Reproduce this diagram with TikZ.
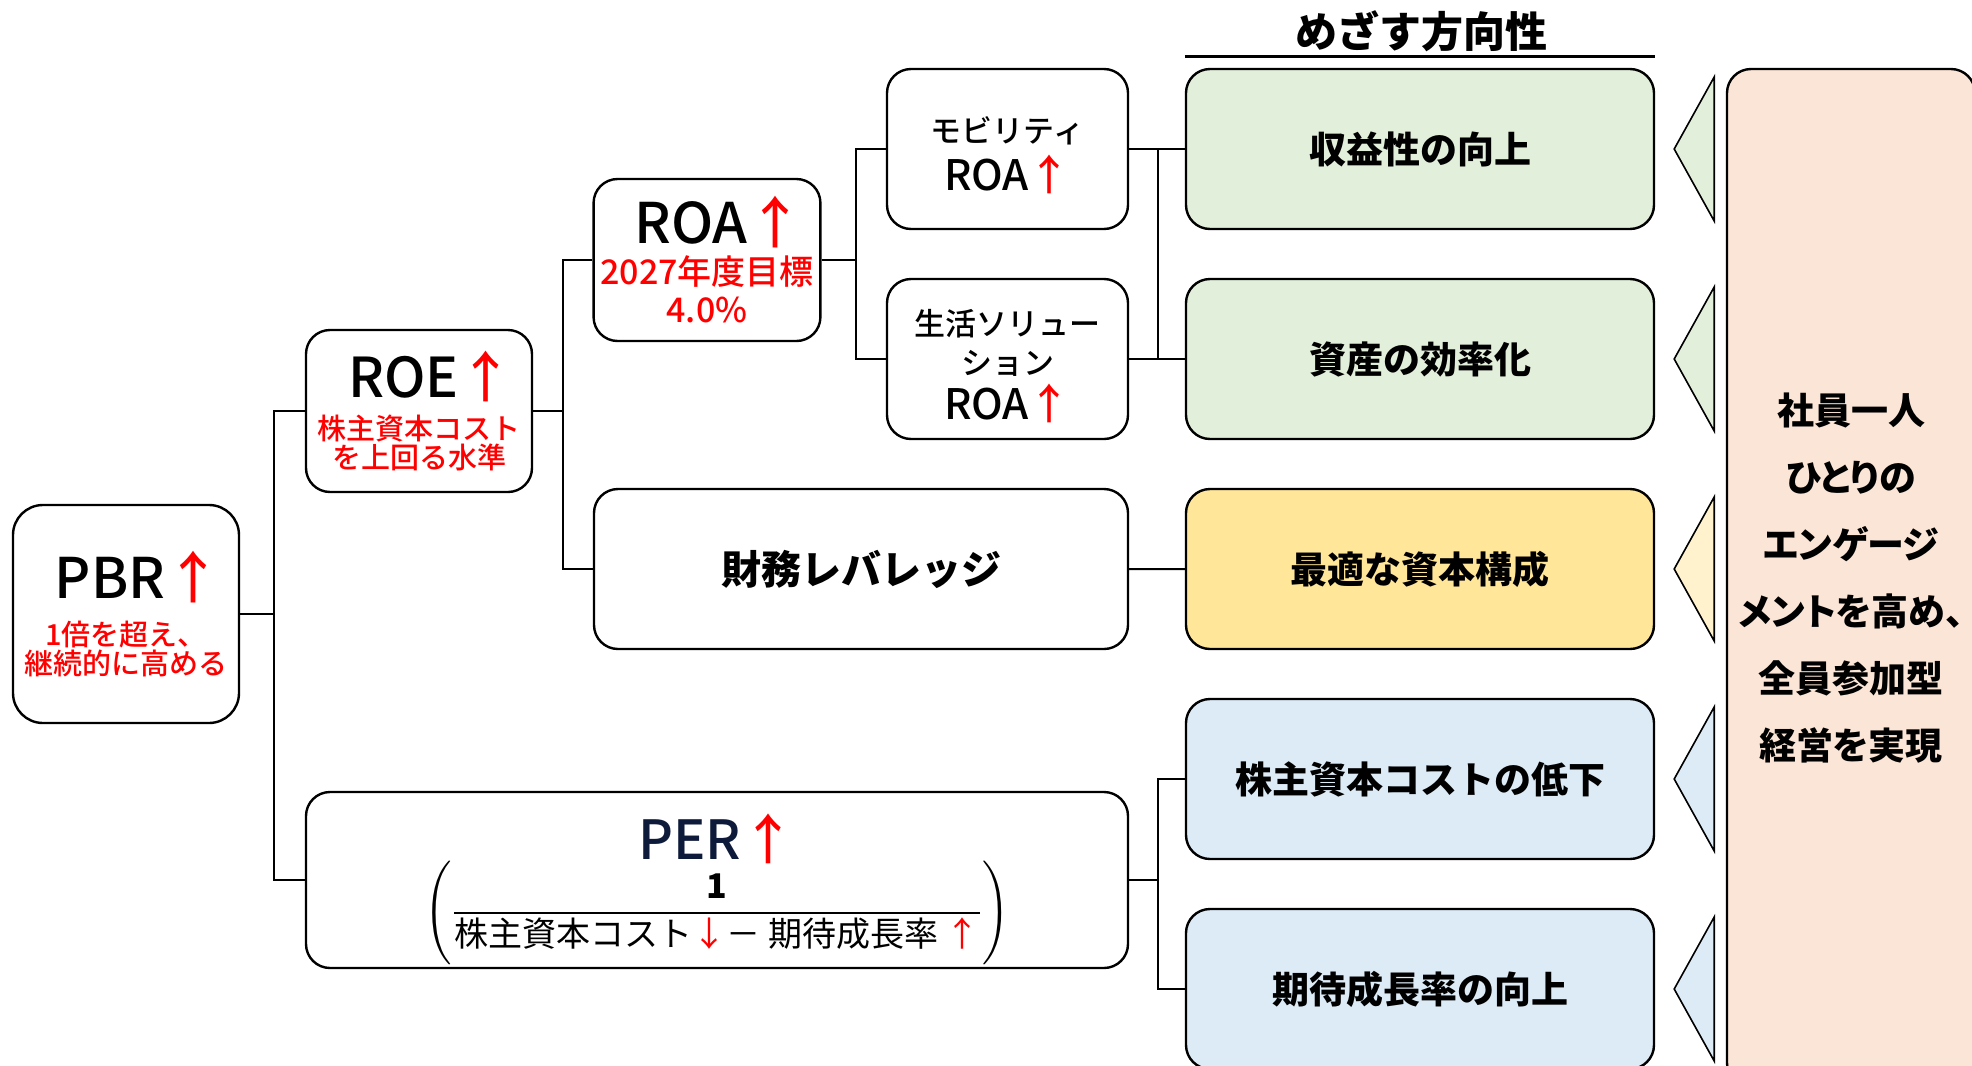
\documentclass[tikz,border=0pt]{standalone}
\usepackage{fontspec}
\setmainfont{Noto Sans CJK JP}
\newfontfamily\medfont{Noto Sans CJK JP Medium}
\usepackage{xcolor}
\usepackage{amsmath}
\usetikzlibrary{positioning}
\definecolor{grnfill}{RGB}{226,239,218}
\definecolor{ylwfill}{RGB}{255,230,153}
\definecolor{ylwtri}{RGB}{255,242,204}
\definecolor{blufill}{RGB}{221,235,247}
\definecolor{peach}{RGB}{251,229,214}
\definecolor{pernavy}{RGB}{14,26,58}

\begin{document}
\begin{tikzpicture}[x=0.5pt,y=-0.5pt,
  box/.style={rectangle,rounded corners=12pt,draw,line width=1.2pt,align=center,fill=white},
  sub/.style={font=\fontsize{14.5}{14.5}\selectfont\medfont,text=red},
  goal/.style={box,minimum width=234pt,minimum height=80pt,font=\fontsize{18.5}{22}\selectfont\bfseries},
  conn/.style={line width=1pt},
  tri/.style={draw,line width=0.8pt},
  node distance=23.8pt]
  \useasboundingbox (0,0) rectangle (1972,1066);
  % left tree
  \node[box,sub,minimum width=113pt,minimum height=109pt,rounded corners=15pt](pbr) at (126,614)
    {\hspace*{12pt}{\fontsize{28}{32}\selectfont\color{black}PBR\textcolor{red}{↑}}\\[9pt]1倍を超え、\\継続的に高める};
  \node[box,sub,minimum width=113pt,minimum height=81pt](roe) at (419,411)
    {\hspace*{12pt}{\fontsize{27.5}{32}\selectfont\color{black}ROE\textcolor{red}{↑}}\\[6.5pt]株主資本コスト\\を上回る水準};
  \node[box,sub,font=\fontsize{17}{19}\selectfont\medfont,minimum width=113pt,minimum height=81pt](roa) at (707,260)
    {\hspace*{12pt}{\fontsize{28}{32}\selectfont\color{black}ROA\textcolor{red}{↑}}\\[1.5pt]2027年度目標\\4.0\%};
  \node[box,font=\fontsize{15.5}{20}\selectfont\medfont,minimum width=120.5pt,minimum height=80pt](mob) at (1007.5,149)
    {\rule{0pt}{19pt}モビリティ\\[4pt]{\fontsize{21}{22}\selectfont ROA\textcolor{red}{↑}}};
  \node[box,font=\fontsize{15.5}{19.5}\selectfont\medfont,minimum width=120.5pt,minimum height=80pt,below=of mob](sol)
    {\rule{0pt}{20pt}生活ソリュー\\ション\\[3pt]{\fontsize{21}{22}\selectfont ROA\textcolor{red}{↑}}};
  \node[box,font=\fontsize{20}{24}\selectfont\bfseries,minimum width=267pt,minimum height=80pt](lev) at (861,569)
    {財務レバレッジ};
  \node[box,font=\fontsize{17}{20}\selectfont,inner ysep=0.5pt,minimum width=411pt,minimum height=88pt](per) at (717,880)
    {\rule{0pt}{32pt}{\fontsize{27}{30}\selectfont\medfont\color{pernavy}PER\textcolor{red}{↑}}\\[-2pt]
     $\displaystyle\Biggl(\frac{\mathbf{1}}{\text{株主資本コスト\textcolor{red}{↓}－ 期待成長率 \textcolor{red}{↑}}}\Biggr)$};
  % goals
  \node[font=\fontsize{21}{24}\selectfont\bfseries](hdr) at (1421,31){めざす方向性};
  \node[goal,fill=grnfill](prof) at (1420,149){収益性の向上};
  \node[goal,fill=grnfill,below=of prof](asset){資産の効率化};
  \node[goal,fill=ylwfill,below=of asset](cap){最適な資本構成};
  \node[goal,fill=blufill,below=of cap](cost){株主資本コストの低下};
  \node[goal,fill=blufill,below=of cost](grow){期待成長率の向上};
  \draw[line width=1.5pt]([yshift=5.5pt]prof.north west)--([yshift=5.5pt]prof.north east);
  \node[box,fill=peach,minimum width=124pt,minimum height=509pt](engbox) at (1851,578){};
  \node[align=center,inner sep=0pt,
        font=\fontsize{18.5}{33.5}\selectfont\bfseries\addfontfeature{RawFeature=+palt}](eng) at (engbox)
    {社員一人\\ひとりの\\エンゲージ\\メントを高め、\\全員参加型\\経営を実現};
  \foreach \n/\col in {prof/grnfill,asset/grnfill,cap/ylwtri,cost/blufill,grow/blufill}
    \draw[tri,fill=\col]([xshift=9.5pt]\n.east)--++(20pt,36pt)--++(0pt,-72pt)--cycle;
  % connectors
  \draw[conn](pbr.east)--++(17pt,0pt)|-(roe);
  \draw[conn](pbr.east)--++(17pt,0pt)|-(per);
  \draw[conn](roe.east)--++(15pt,0pt)|-(roa);
  \draw[conn](roe.east)--++(15pt,0pt)|-(lev);
  \draw[conn](roa.east)--++(17pt,0pt)|-(mob);
  \draw[conn](roa.east)--++(17pt,0pt)|-(sol);
  \draw[conn](mob)--(prof);
  \draw[conn](sol)--(asset);
  \draw[conn](mob.east)--++(14.5pt,0pt)|-(asset);
  \draw[conn](lev)--(cap);
  \draw[conn](per.east)--++(14.5pt,0pt)|-(cost);
  \draw[conn](per.east)--++(14.5pt,0pt)|-(grow);
\end{tikzpicture}
\end{document}
